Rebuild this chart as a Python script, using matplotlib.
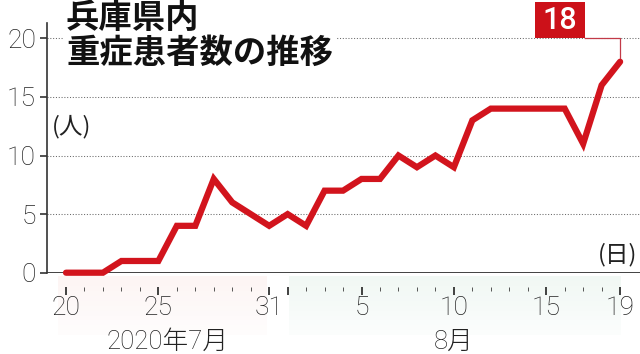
import matplotlib
matplotlib.use("Agg")
import matplotlib.pyplot as plt
from matplotlib.patches import Rectangle
from matplotlib.ticker import FixedLocator, FixedFormatter

# ---- data ----
day_labels = ["20", "21", "22", "23", "24", "25", "26", "27", "28", "29", "30", "31",
              "1", "2", "3", "4", "5", "6", "7", "8", "9", "10", "11", "12", "13", "14",
              "15", "16", "17", "18", "19"]
cases = [0, 0, 0, 1, 1, 1, 4, 4, 8, 6, 5, 4,
         5, 4, 7, 7, 8, 8, 10, 9, 10, 9, 13, 14, 14, 14,
         14, 14, 11, 16, 18]
labelled_days = ["20", "25", "31", "5", "10", "15", "19"]
month_labels = ["2020年7月", "8月"]
y_ticks = [0, 5, 10, 15, 20]
title_lines = ["兵庫県内", "重症患者数の推移"]
unit_y = "(人)"
unit_x = "(日)"

RED = "#d2141d"
DARK = "#333333"
NUM_FONT = ["Roboto", "Noto Sans CJK JP", "DejaVu Sans"]
JP_FONT = ["Noto Sans CJK JP", "DejaVu Sans"]

x = list(range(len(cases)))
july_idx = [i for i in x if i <= day_labels.index("31")]
aug_idx = [i for i in x if i > day_labels.index("31")]

W, H = 640, 354
fig = plt.figure(figsize=(W / 100, H / 100), dpi=100)
ax_left, ax_bottom_px, ax_top_px = 47, 272.7, 23
ax = fig.add_axes([ax_left / W, 1 - ax_bottom_px / H, (W - ax_left) / W, (ax_bottom_px - ax_top_px) / H])

px_per_day = 18.47
px_per_unit = 11.72
ax.set_xlim(-(66 - ax_left) / px_per_day, -(66 - ax_left) / px_per_day + (W - ax_left) / px_per_day)
ax.set_ylim(0, (ax_bottom_px - ax_top_px) / px_per_unit)

# shaded month bands below axis (faint gradient)
n = 12
for k in range(n):
    y0 = -0.015 - k * (0.235 / n)
    y1 = y0 - 0.235 / n
    a = 1.0 - k / n * 0.85
    ax.axvspan(july_idx[0] - 0.45, july_idx[-1] - 0.1, ymin=y1, ymax=y0,
               color="#fdf5f4", alpha=a, lw=0, clip_on=False, zorder=0)
    ax.axvspan(aug_idx[0] + 0.1, aug_idx[-1] + 0.05, ymin=y1, ymax=y0,
               color="#f1f8f4", alpha=a, lw=0, clip_on=False, zorder=0)

# grid
ax.set_yticks(y_ticks)
ax.yaxis.grid(True, linestyle=(0, (1, 1.7)), color="#6a6a6a", lw=0.75, zorder=1)
ax.set_axisbelow(True)

# spines
for s in ["top", "right"]:
    ax.spines[s].set_visible(False)
ax.spines["left"].set_color(DARK)
ax.spines["left"].set_linewidth(1.2)
ax.spines["bottom"].set_position(("outward", 10))
ax.spines["bottom"].set_color("none")
ax.axhline(0, color=DARK, lw=1.3, zorder=2)

# ticks
major_pos = [day_labels.index(d) for d in labelled_days]
major_pos.insert(3, day_labels.index("1"))
major_lab = list(labelled_days)
major_lab.insert(3, "")
minor_pos = [i for i in x if i not in major_pos]
ax.xaxis.set_major_locator(FixedLocator(major_pos))
ax.xaxis.set_major_formatter(FixedFormatter(major_lab))
ax.xaxis.set_minor_locator(FixedLocator(minor_pos))
ax.tick_params(axis="x", which="major", direction="out", length=5.5, width=1.3, color=DARK, pad=1.5,
               labelsize=19, labelcolor="#222222")
ax.tick_params(axis="x", which="minor", direction="out", length=3.2, width=0.7, color="#555555")
ax.tick_params(axis="y", direction="out", length=5, width=1.2, color=DARK, pad=3,
               labelsize=19, labelcolor="#222222")
for lab in ax.get_xticklabels() + ax.get_yticklabels():
    lab.set_family(NUM_FONT)
    lab.set_fontweight("light")

# data line
ax.plot(x, cases, color=RED, lw=4.5, solid_joinstyle="miter", solid_capstyle="round",
        clip_on=False, zorder=5)

# final value box with leader
last_x, last_v = x[-1], cases[-1]
bx0, bx1 = last_x - 4.6, last_x - 1.9
by0, by1 = 20.0, 23.1
ax.add_patch(Rectangle((bx0, by0), bx1 - bx0, by1 - by0, facecolor="#cc1119", edgecolor="none",
                       clip_on=False, zorder=6))
ax.text((bx0 + bx1) / 2, (by0 + by1) / 2 - 0.05, str(last_v), color="white", fontsize=22,
        family=NUM_FONT, fontweight="medium", ha="center", va="center", zorder=7, clip_on=False)
ax.plot([bx1, last_x, last_x], [by0, by0, last_v + 0.35], color="#c23a48", lw=0.9,
        clip_on=False, zorder=6)

# title
fig.text(66 / W, 1 - 28 / H, title_lines[0], fontsize=24, fontweight="bold", family=JP_FONT,
         ha="left", va="baseline", color="#111111", zorder=10,
         bbox=dict(facecolor="white", edgecolor="none", pad=1))
fig.text(66 / W, 1 - 63 / H, title_lines[1], fontsize=24, fontweight="bold", family=JP_FONT,
         ha="left", va="baseline", color="#111111", zorder=10,
         bbox=dict(facecolor="white", edgecolor="none", pad=2))

# unit labels
fig.text(72 / W, 1 - 127 / H, unit_y, fontsize=17, family=JP_FONT, ha="center", va="center",
         color="#222222")
fig.text(618 / W, 1 - 255 / H, unit_x, fontsize=17, family=JP_FONT, ha="center", va="center",
         color="#222222")

# month labels
jul_c = (july_idx[0] + july_idx[-1]) / 2
aug_c = (aug_idx[0] + aug_idx[-1]) / 2
tr = ax.get_xaxis_transform()
ax.text(jul_c, -0.2775, month_labels[0], transform=tr, fontsize=18.5, family=NUM_FONT,
        fontweight="light", ha="center", va="center", color="#222222", clip_on=False)
ax.text(aug_c, -0.2775, month_labels[1], transform=tr, fontsize=18.5, family=NUM_FONT,
        fontweight="light", ha="center", va="center", color="#222222", clip_on=False)

fig.savefig("out.png", dpi=100)
